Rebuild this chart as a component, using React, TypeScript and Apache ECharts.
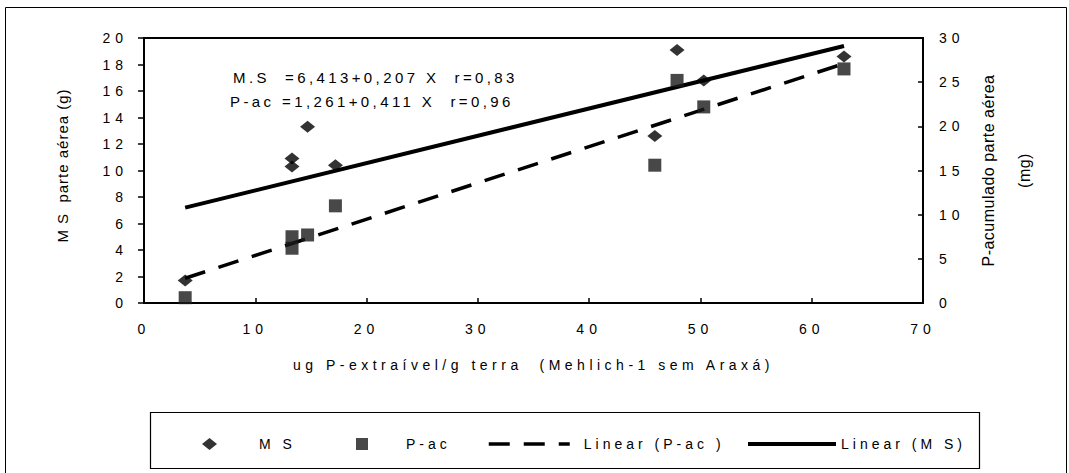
import React, { useEffect, useRef } from "react";
import * as echarts from "echarts";

const msPoints: [number, number][] = [
  [3.7, 1.7], [13.3, 10.9], [13.3, 10.3], [14.7, 13.3], [17.2, 10.4],
  [45.9, 12.6], [47.9, 19.1], [50.3, 16.8], [62.9, 18.6],
];
const pacPoints: [number, number][] = [
  [3.7, 0.6], [13.3, 7.5], [13.3, 6.2], [14.7, 7.7], [17.2, 11.0],
  [45.9, 15.6], [47.9, 25.2], [50.3, 22.2], [62.9, 26.5],
];
const msLine: [number, number][] = [[3.7, 7.2], [62.9, 19.4]];
const pacLine: [number, number][] = [[3.7, 2.8], [62.9, 27.1]];
const eqLines = [
  "M.S  =6,413+0,207 X  r=0,83",
  "P-ac =1,261+0,411 X  r=0,96",
];
const legendNames = ["M S", "P-ac", "Linear (P-ac )", "Linear (M S)"];
const xName = "ug P-extraível/g terra  (Mehlich-1 sem Araxá)";
const yLeftName = "M S  parte aérea (g)";
const yRightName = "P-acumulado parte aérea\n(mg)";

const FONT = "'Liberation Sans', Arial, sans-serif";

function spacingFor(s: string): number {
  if (/^\d+$/.test(s)) return 5;
  if (s === xName) return 4.5;
  if (s === eqLines[0] || s === eqLines[1]) return 3.4;
  if (legendNames.includes(s)) return 4;
  if (s === yLeftName) return 1;
  return 0.5;
}

export default function App() {
  const ref = useRef<HTMLDivElement>(null);
  useEffect(() => {
    if (!ref.current) return;
    const root = ref.current;
    const chart = echarts.init(root, null, { renderer: "svg" });
    const txt = { color: "#000", fontFamily: FONT, fontSize: 14 };
    const tick = { color: "#000", fontFamily: FONT, fontSize: 14 };
    const apply = () => {
      root.querySelectorAll("text").forEach((t) => {
        const s = (t.textContent || "").trim();
        (t as SVGTextElement).style.letterSpacing = spacingFor(s) + "px";
      });
    };
    chart.on("finished", apply);
    chart.setOption({
      animation: false,
      backgroundColor: "#fff",
      textStyle: { fontFamily: FONT, color: "#000" },
      grid: {
        left: 144, right: 146, top: 38, bottom: 170,
        show: true, borderColor: "#000", borderWidth: 2,
      },
      xAxis: {
        type: "value", min: 0, max: 70, interval: 10,
        name: xName,
        nameLocation: "middle", nameGap: 55,
        nameTextStyle: { ...txt },
        axisLine: { lineStyle: { color: "#000", width: 2 } },
        axisTick: { inside: true, length: 5, lineStyle: { color: "#000", width: 1.5 } },
        axisLabel: { ...tick, margin: 19 },
        splitLine: { show: false },
      },
      yAxis: [
        {
          type: "value", min: 0, max: 20, interval: 2,
          name: yLeftName,
          nameLocation: "middle", nameGap: 74, nameRotate: 90,
          nameTextStyle: { ...txt, fontSize: 15, padding: [0, 0, 0, 10] },
          axisLine: { show: true, lineStyle: { color: "#000", width: 2 } },
          axisTick: { show: true, inside: false, length: 6, lineStyle: { color: "#000", width: 1.5 } },
          axisLabel: { ...tick, margin: 16 },
          splitLine: { show: false },
        },
        {
          type: "value", min: 0, max: 30, interval: 5, position: "right",
          name: yRightName,
          nameLocation: "middle", nameGap: 47, nameRotate: 90,
          nameTextStyle: { ...txt, fontSize: 16, lineHeight: 36 },
          axisLine: { show: true, lineStyle: { color: "#000", width: 2 } },
          axisTick: { show: true, inside: true, length: 5, lineStyle: { color: "#000", width: 1.5 } },
          axisLabel: { ...tick, margin: 16 },
          splitLine: { show: false },
        },
      ],
      legend: [
        {
          data: [{ name: legendNames[0], icon: "diamond" }], left: 197, top: 432,
          itemWidth: 15, itemHeight: 12,
          textStyle: { ...txt, padding: [0, 0, 0, 37] },
        },
        {
          data: [{ name: legendNames[1], icon: "rect" }], left: 351, top: 432,
          itemWidth: 12, itemHeight: 12,
          textStyle: { ...txt, padding: [0, 0, 0, 33] },
        },
        {
          data: [{ name: legendNames[2] }], left: 482, top: 432,
          itemWidth: 81, itemHeight: 12,
          itemStyle: { opacity: 0 },
          lineStyle: { width: 3.5 },
          textStyle: { ...txt, padding: [0, 0, 0, 9] },
        },
        {
          data: [{ name: legendNames[3] }], left: 741, top: 432,
          itemWidth: 88, itemHeight: 12,
          itemStyle: { opacity: 0 },
          lineStyle: { width: 4 },
          textStyle: { ...txt },
        },
      ],
      graphic: [
        {
          type: "rect", silent: true, z: -1,
          shape: { x: 5.5, y: 7.5, width: 1061, height: 470 },
          style: { fill: "none", stroke: "#000", lineWidth: 1 },
        },
        {
          type: "rect", silent: true,
          shape: { x: 150.5, y: 412.5, width: 829, height: 56 },
          style: { fill: "none", stroke: "#000", lineWidth: 1.2 },
        },
        {
          type: "text", left: 233, top: 70,
          style: { text: eqLines[0], fill: "#000", font: `15px ${FONT}` },
        },
        {
          type: "text", left: 230, top: 94,
          style: { text: eqLines[1], fill: "#000", font: `15px ${FONT}` },
        },
      ],
      series: [
        {
          name: legendNames[0], type: "scatter", yAxisIndex: 0, data: msPoints,
          symbol: "diamond", symbolSize: [15, 12],
          itemStyle: { color: "#000" }, z: 3,
        },
        {
          name: legendNames[1], type: "scatter", yAxisIndex: 1, data: pacPoints,
          symbol: "rect", symbolSize: 13,
          itemStyle: { color: "#1a1a1a" }, z: 3,
        },
        {
          name: legendNames[2], type: "line", yAxisIndex: 1, data: pacLine,
          symbol: "none", showSymbol: false, color: "#000",
          lineStyle: { color: "#000", width: 3.5, type: [21, 14] },
        },
        {
          name: legendNames[3], type: "line", yAxisIndex: 0, data: msLine,
          symbol: "none", showSymbol: false, color: "#000",
          lineStyle: { color: "#000", width: 4 },
        },
      ],
    });
    apply();
    return () => chart.dispose();
  }, []);
  return (
    <div
      ref={ref}
      style={{ position: "fixed", left: 0, top: 0, width: 1069, height: 473 }}
    />
  );
}
